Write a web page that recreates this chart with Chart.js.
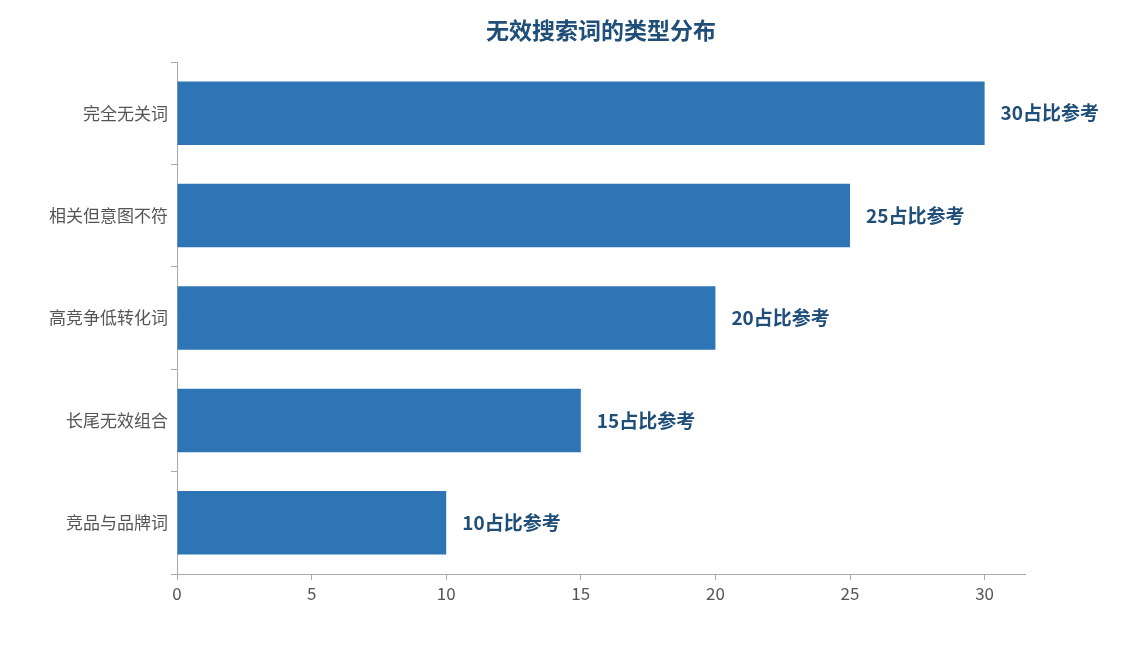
<!DOCTYPE html>
<html>
<head>
<meta charset="utf-8">
<script src="https://cdn.jsdelivr.net/npm/chart.js@4"></script>
<style>
  html, body { margin: 0; padding: 0; background: #fff; }
  #wrap { width: 1125px; height: 645px; }
</style>
</head>
<body>
<div id="wrap"><canvas id="myChart"></canvas></div>
<script>
let categorias = ["完全无关词", "相关但意图不符", "高竞争低转化词", "长尾无效组合", "竞品与品牌词"];
let valores = [30, 25, 20, 15, 10];
let ticksX = [0, 5, 10, 15, 20, 25, 30];
let sufijo = "占比参考";
let titulo = "无效搜索词的类型分布";
let fuente = "'Noto Sans CJK SC', 'Noto Sans', sans-serif";

const etiquetas = {
    id: "etiquetas",
    afterDatasetsDraw(chart) {
        const ctx = chart.ctx;
        const meta = chart.getDatasetMeta(0);
        const area = chart.chartArea;
        ctx.save();
        ctx.font = "bold 19px " + fuente;
        ctx.fillStyle = "#1f4e79";
        ctx.textBaseline = "middle";
        meta.data.forEach((bar, i) => {
            ctx.fillText(valores[i] + sufijo, bar.x + 16, bar.y);
        });
        ctx.font = "bold 23px " + fuente;
        ctx.textAlign = "center";
        ctx.fillText(titulo, (area.left + area.right) / 2, 30);
        ctx.restore();
    }
};

new Chart(document.getElementById("myChart"), {
    type: "bar",
    data: {
        labels: categorias,
        datasets: [{
            data: valores,
            backgroundColor: "#2e75b6",
            categoryPercentage: 0.62,
            barPercentage: 1
        }]
    },
    options: {
        indexAxis: "y",
        responsive: true,
        maintainAspectRatio: false,
        animation: false,
        layout: { padding: { left: 10, right: 100, top: 62, bottom: 18 } },
        plugins: {
            legend: { display: false },
            tooltip: { enabled: false },
            title: { display: false }
        },
        scales: {
            x: {
                min: 0,
                max: 31.5,
                afterBuildTicks: axis => { axis.ticks = ticksX.map(v => ({ value: v })); },
                grid: { display: true, drawOnChartArea: false, drawTicks: true, tickLength: 6, color: "#aaa" },
                border: { color: "#aaa" },
                ticks: { color: "#555", font: { size: 17, family: fuente } },
                afterFit: axis => { axis.height = 53; }
            },
            y: {
                grid: { display: true, drawOnChartArea: false, drawTicks: true, tickLength: 6, color: "#aaa" },
                border: { color: "#aaa" },
                ticks: { color: "#555", font: { size: 17, family: fuente } },
                afterFit: axis => { axis.width = 167; }
            }
        }
    },
    plugins: [etiquetas]
});
</script>
</body>
</html>
